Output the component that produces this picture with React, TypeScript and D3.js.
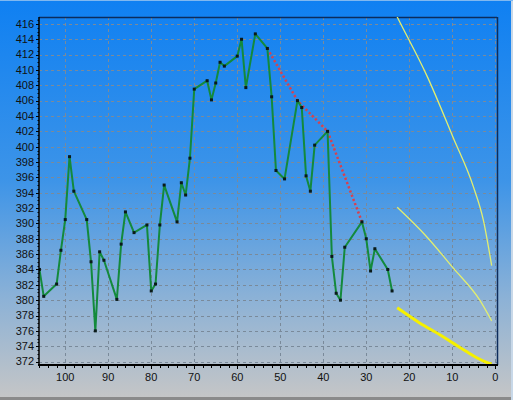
import React from "react";
import * as d3 from "d3";

const W = 513;
const H = 400;

const xTicks = [100, 90, 80, 70, 60, 50, 40, 30, 20, 10, 0];
const yTicks = d3.range(372, 417, 2);

const greenX = [106, 105, 102, 101, 100, 99, 98, 95, 94, 93, 92, 91, 88, 87, 86, 84, 81, 80, 79, 78, 77, 74, 73, 72, 71, 70, 67, 66, 65, 64, 63, 60, 59, 58, 55.8, 53, 52, 51, 49, 46, 45, 44, 43, 42, 39, 38, 37, 36, 35, 31, 30, 29, 28, 25, 24];
const greenY = [384, 380.5, 382.1, 386.5, 390.5, 398.7, 394.2, 390.5, 385, 376, 386.3, 385.2, 380.1, 387.3, 391.5, 388.8, 389.8, 381.2, 382.1, 389.8, 395, 390.2, 395.3, 393.7, 398.5, 407.5, 408.6, 406.1, 408.3, 411, 410.5, 411.8, 414, 407.7, 414.7, 412.8, 406.5, 396.9, 395.8, 406, 405.1, 396.2, 394.2, 400.2, 402, 385.7, 380.9, 380, 386.9, 390.2, 388, 383.8, 386.7, 384, 381.2];

const redX = [53, 46, 39, 31];
const redY = [412.8, 406, 402, 390.2];

const y1X = [23.6, 22.8, 15.7, 9.8, 5.1, 2.8, 0.84];
const y1Y = [417.8, 416.9, 409.0, 401.2, 394.8, 390.5, 384.5];
const y2X = [22.8, 16, 9.8, 3.6, 0.84];
const y2Y = [392.1, 388.3, 384.2, 380, 377.3];
const y3X = [22.8, 17.5, 12.9, 9.8, 6.7, 4.3, 2, 0.84];
const y3Y = [379, 377, 375.5, 374.4, 373.3, 372.5, 371.9, 371.7];

const L = 39, R = 497, T = 17, B = 365;

export default function App() {
  const x = d3.scaleLinear().domain([106.1, -0.4]).range([L, R]);
  const y = d3.scaleLinear().domain([371.55, 416.9]).range([B, T]);
  const pts = (xs: number[], ys: number[]) => xs.map((v, i) => [v, ys[i]] as [number, number]);
  const asc = (xs: number[], ys: number[]) => pts(xs, ys).sort((a, b) => x(a[0]) - x(b[0]));
  const lin = d3.line<[number, number]>().x(d => x(d[0])).y(d => y(d[1]));
  const smooth = d3.line<[number, number]>().x(d => x(d[0])).y(d => y(d[1])).curve(d3.curveMonotoneX);
  const green = pts(greenX, greenY);
  const minorX = d3.range(0, 107, 2);
  const minorY = d3.range(372, 417, 0.5);

  return (
    <svg width={W} height={H} style={{ position: "fixed", left: 0, top: 0, display: "block" }}
      fontFamily="'Liberation Sans', Arial, sans-serif">
      <defs>
        <linearGradient id="bg" x1="0" y1="0" x2="0" y2="1">
          <stop offset="0%" stopColor="#0f80f2" />
          <stop offset="45%" stopColor="#3d94e8" />
          <stop offset="75%" stopColor="#8db2d6" />
          <stop offset="100%" stopColor="#c6c6c6" />
        </linearGradient>
        <clipPath id="plot">
          <rect x={L} y={T} width={R - L} height={B - T} />
        </clipPath>
      </defs>
      <rect x={0} y={0} width={W} height={H} fill="url(#bg)" />
      <line x1={0} y1={H - 1.5} x2={W} y2={H - 1.5} stroke="#8a8a8a" strokeWidth={3} />
      <line x1={W - 1} y1={0} x2={W - 1} y2={H} stroke="#c8d8e8" strokeWidth={2} />
      <line x1={0} y1={0.5} x2={W} y2={0.5} stroke="#7fb8f0" strokeWidth={1} />

      {/* grid */}
      <g stroke="#7a8a9a" strokeWidth={1} strokeDasharray="3,3">
        {yTicks.map(t => (
          <line key={"gy" + t} x1={L} x2={R} y1={Math.round(y(t)) + 0.5} y2={Math.round(y(t)) + 0.5} />
        ))}
        {xTicks.map(t => (
          <line key={"gx" + t} y1={T} y2={B} x1={Math.round(x(t)) + 0.5} x2={Math.round(x(t)) + 0.5} />
        ))}
      </g>

      {/* frame top/right */}
      <line x1={L} x2={R} y1={T + 0.5} y2={T + 0.5} stroke="#0c2c5c" strokeWidth={1.5} />
      <line x1={R + 0.5} x2={R + 0.5} y1={T} y2={B} stroke="#0c2c5c" strokeWidth={1.5} />

      <g clipPath="url(#plot)" fill="none">
        <path d={smooth(asc(y1X, y1Y)) || ""} stroke="#e2ee70" strokeWidth={1.3} />
        <path d={smooth(asc(y2X, y2Y)) || ""} stroke="#e2ee70" strokeWidth={1.3} />
        <path d={smooth(asc(y3X, y3Y)) || ""} stroke="#f5f000" strokeWidth={3} />
        <path d={lin(pts(redX, redY)) || ""} stroke="#d8404e" strokeWidth={2.5} strokeDasharray="2.2,2.3" />
        <path d={lin(green) || ""} stroke="#138a3c" strokeWidth={2} strokeLinejoin="round" />
        {green.map((d, i) => (
          <rect key={"m" + i} x={x(d[0]) - 1.5} y={y(d[1]) - 1.5} width={3} height={3} fill="#0a1a1a" />
        ))}
      </g>

      {/* axes */}
      <line x1={L} x2={L} y1={T} y2={B + 1} stroke="#000" strokeWidth={1.5} />
      <line x1={L - 1} x2={R + 1} y1={B} y2={B} stroke="#000" strokeWidth={2} />
      <g stroke="#000" strokeWidth={1}>
        {minorX.map(t => (
          <line key={"mx" + t} x1={Math.round(x(t)) + 0.5} x2={Math.round(x(t)) + 0.5} y1={B} y2={B + (t % 10 === 0 ? 4 : 3)} />
        ))}
        {minorY.map(t => (
          <line key={"my" + t} x1={L - (t % 2 === 0 ? 3 : 1.5)} x2={L} y1={Math.round(y(t)) + 0.5} y2={Math.round(y(t)) + 0.5} />
        ))}
      </g>

      <g fontSize={11} fill="#111">
        {yTicks.map(t => (
          <text key={"ty" + t} x={34} y={y(t)} dy="0.35em" textAnchor="end">{t}</text>
        ))}
        {xTicks.map(t => (
          <text key={"tx" + t} x={x(t)} y={381} textAnchor="middle">{t}</text>
        ))}
      </g>
    </svg>
  );
}
